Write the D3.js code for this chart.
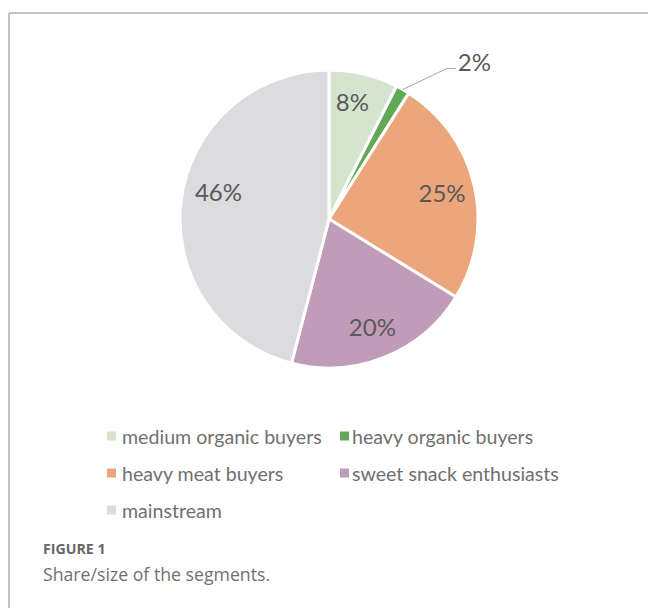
<!DOCTYPE html>
<html><head><meta charset="utf-8">
<script src="https://cdn.jsdelivr.net/npm/d3@7"></script>
<style>body{margin:0;background:#fff;} svg{display:block;}</style>
</head><body>
<svg id="c" width="648" height="608"></svg>
<script>
const categories = ["medium organic buyers","heavy organic buyers","heavy meat buyers","sweet snack enthusiasts","mainstream"];
const values = [7.5, 1.5, 24.8, 20.3, 46.0];
const colors = ["#d5e4cf","#62a857","#eba67c","#c09cb9","#dcdcde"];
const figureLabel = "FIGURE 1";
const caption = "Share/size of the segments.";

const svg = d3.select("#c");
// frame
svg.append("line").attr("x1",9).attr("x2",648).attr("y1",13).attr("y2",13).attr("stroke","#b0b0b0").attr("stroke-width",1.5);
svg.append("line").attr("x1",9).attr("x2",9).attr("y1",13).attr("y2",608).attr("stroke","#b0b0b0").attr("stroke-width",1.5);

const cx = 329, cy = 219, r = 149;
const data = categories.map((c,i)=>({cat:c, v:values[i], col:colors[i]}));
const pie = d3.pie().value(d=>d.v).sort(null);
const arcs = pie(data);
const arc = d3.arc().innerRadius(0).outerRadius(r);
const g = svg.append("g").attr("transform",`translate(${cx},${cy})`);
g.selectAll("path").data(arcs).join("path")
  .attr("d",arc).attr("fill",d=>d.data.col)
  .attr("stroke","#fff").attr("stroke-width",3).attr("stroke-linejoin","round");

const fmt = v => Math.round(v) + "%";
const labelFont = "Lato, 'Open Sans', sans-serif";
const labelArc = d3.arc().innerRadius(116).outerRadius(116);
const outerArc = d3.arc().innerRadius(r).outerRadius(r);
arcs.forEach((d,i)=>{
  if (d.data.v < 3) {
    const p = outerArc.centroid(d);
    const k = [p[0]+44, p[1]-21];
    const e = [k[0]+9, k[1]];
    g.append("polyline").attr("points",[p,k,e].map(q=>q.join(",")).join(" "))
      .attr("fill","none").attr("stroke","#a6a6a6").attr("stroke-width",1);
    g.append("text").attr("x",e[0]+2).attr("y",e[1]-7).attr("dominant-baseline","central")
      .attr("font-family",labelFont).attr("font-size",24).attr("fill","#595959")
      .text(fmt(d.data.v));
  } else {
    let c = labelArc.centroid(d);
    if (i===0) c = d3.arc().innerRadius(120).outerRadius(120).startAngle(d.startAngle-0.04).endAngle(d.endAngle-0.04).centroid();
    if (i===4) c = d3.arc().innerRadius(114).outerRadius(114).startAngle(d.startAngle+0.12).endAngle(d.endAngle+0.12).centroid();
    g.append("text").attr("x",c[0]).attr("y",c[1]).attr("text-anchor","middle").attr("dominant-baseline","central")
      .attr("font-family",labelFont).attr("font-size",24).attr("fill","#595959")
      .text(fmt(d.data.v));
  }
});

// legend
const legX = [107, 340], legY0 = 436, legDy = 37;
const leg = svg.append("g");
data.forEach((d,i)=>{
  const x = legX[i%2], y = legY0 + Math.floor(i/2)*legDy;
  leg.append("rect").attr("x",x).attr("y",y-4.5).attr("width",9).attr("height",9).attr("fill",d.col);
  leg.append("text").attr("x",x+(i%2?12:15)).attr("y",y).attr("dominant-baseline","central")
    .attr("font-family",labelFont).attr("font-size",19.6).attr("fill","#707070").text(d.cat);
});

svg.append("text").attr("x",43).attr("y",554).attr("font-family","'Open Sans', sans-serif").attr("font-weight","bold")
  .attr("font-size",14.2).attr("fill","#666").text(figureLabel);
svg.append("text").attr("x",43).attr("y",581).attr("font-family","'Open Sans', sans-serif")
  .attr("font-size",17.7).attr("fill","#707070").text(caption);
</script>
</body></html>
